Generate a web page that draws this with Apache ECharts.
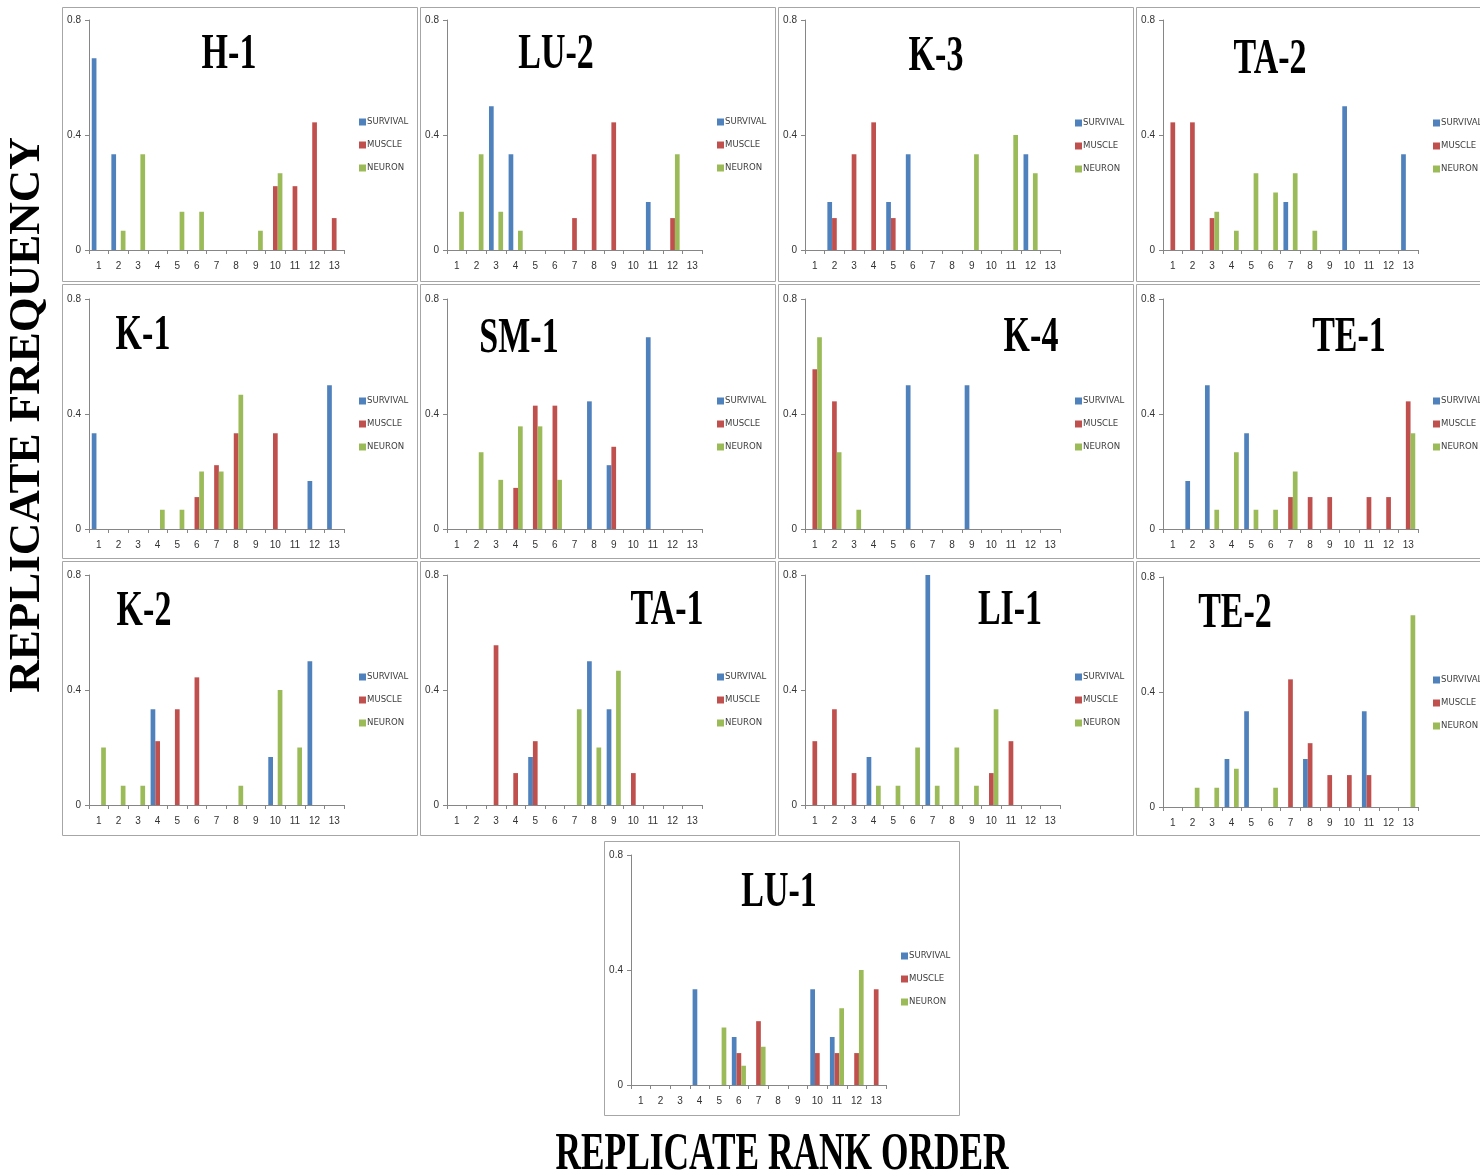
<!DOCTYPE html>
<html>
<head>
<meta charset="utf-8">
<script src="https://cdn.jsdelivr.net/npm/echarts@6/dist/echarts.min.js"></script>
<style>
html,body{margin:0;padding:0;background:#fff;}
#chart{width:1480px;height:1172px;}
</style>
</head>
<body>
<div id="chart"></div>
<script>
// ---------- DATA ----------
const categories = ['1','2','3','4','5','6','7','8','9','10','11','12','13'];
const seriesNames = ['SURVIVAL','MUSCLE','NEURON'];
const yTicks = [0, 0.4, 0.8];
const panelNames = ['H-1','LU-2','K-3','TA-2','K-1','SM-1','K-4','TE-1','K-2','TA-1','LI-1','TE-2','LU-1'];

const h1Survival = [0.667,0.333,0,0,0,0,0,0,0,0,0,0,0];
const h1Muscle   = [0,0,0,0,0,0,0,0,0,0.222,0.222,0.444,0.111];
const h1Neuron   = [0,0.067,0.333,0,0.133,0.133,0,0,0.067,0.267,0,0,0];

const lu2Survival = [0,0,0.5,0.333,0,0,0,0,0,0,0.167,0,0];
const lu2Muscle   = [0,0,0,0,0,0,0.111,0.333,0.444,0,0,0.111,0];
const lu2Neuron   = [0.133,0.333,0.133,0.067,0,0,0,0,0,0,0,0.333,0];

const k3Survival = [0,0.167,0,0,0.167,0.333,0,0,0,0,0,0.333,0];
const k3Muscle   = [0,0.111,0.333,0.444,0.111,0,0,0,0,0,0,0,0];
const k3Neuron   = [0,0,0,0,0,0,0,0,0.333,0,0.4,0.267,0];

const ta2Survival = [0,0,0,0,0,0,0.167,0,0,0.5,0,0,0.333];
const ta2Muscle   = [0.444,0.444,0.111,0,0,0,0,0,0,0,0,0,0];
const ta2Neuron   = [0,0,0.133,0.067,0.267,0.2,0.267,0.067,0,0,0,0,0];

const k1Survival = [0.333,0,0,0,0,0,0,0,0,0,0,0.167,0.5];
const k1Muscle   = [0,0,0,0,0,0.111,0.222,0.333,0,0.333,0,0,0];
const k1Neuron   = [0,0,0,0.067,0.067,0.2,0.2,0.467,0,0,0,0,0];

const sm1Survival = [0,0,0,0,0,0,0,0.444,0.222,0,0.667,0,0];
const sm1Muscle   = [0,0,0,0.143,0.429,0.429,0,0,0.286,0,0,0,0];
const sm1Neuron   = [0,0.267,0.171,0.357,0.357,0.171,0,0,0,0,0,0,0];

const k4Survival = [0,0,0,0,0,0.5,0,0,0.5,0,0,0,0];
const k4Muscle   = [0.556,0.444,0,0,0,0,0,0,0,0,0,0,0];
const k4Neuron   = [0.667,0.267,0.067,0,0,0,0,0,0,0,0,0,0];

const te1Survival = [0,0.167,0.5,0,0.333,0,0,0,0,0,0,0,0];
const te1Muscle   = [0,0,0,0,0,0,0.111,0.111,0.111,0,0.111,0.111,0.444];
const te1Neuron   = [0,0,0.067,0.267,0.067,0.067,0.2,0,0,0,0,0,0.333];

const k2Survival = [0,0,0,0.333,0,0,0,0,0,0.167,0,0.5,0];
const k2Muscle   = [0,0,0,0.222,0.333,0.444,0,0,0,0,0,0,0];
const k2Neuron   = [0.2,0.067,0.067,0,0,0,0,0.067,0,0.4,0.2,0,0];

const ta1Survival = [0,0,0,0,0.167,0,0,0.5,0.333,0,0,0,0];
const ta1Muscle   = [0,0,0.556,0.111,0.222,0,0,0,0,0.111,0,0,0];
const ta1Neuron   = [0,0,0,0,0,0,0.333,0.2,0.467,0,0,0,0];

const li1Survival = [0,0,0,0.167,0,0,0.8,0,0,0,0,0,0];
const li1Muscle   = [0.222,0.333,0.111,0,0,0,0,0,0,0.111,0.222,0,0];
const li1Neuron   = [0,0,0,0.067,0.067,0.2,0.067,0.2,0.067,0.333,0,0,0];

const te2Survival = [0,0,0,0.167,0.333,0,0,0.167,0,0,0.333,0,0];
const te2Muscle   = [0,0,0,0,0,0,0.444,0.222,0.111,0.111,0.111,0,0];
const te2Neuron   = [0,0.067,0.067,0.133,0,0.067,0,0,0,0,0,0,0.667];

const lu1Survival = [0,0,0,0.333,0,0.167,0,0,0,0.333,0.167,0,0];
const lu1Muscle   = [0,0,0,0,0,0.111,0.222,0,0,0.111,0.111,0.111,0.333];
const lu1Neuron   = [0,0,0,0,0.2,0.067,0.133,0,0,0,0.267,0.4,0];

const panelSeries = [
  [h1Survival, h1Muscle, h1Neuron],
  [lu2Survival, lu2Muscle, lu2Neuron],
  [k3Survival, k3Muscle, k3Neuron],
  [ta2Survival, ta2Muscle, ta2Neuron],
  [k1Survival, k1Muscle, k1Neuron],
  [sm1Survival, sm1Muscle, sm1Neuron],
  [k4Survival, k4Muscle, k4Neuron],
  [te1Survival, te1Muscle, te1Neuron],
  [k2Survival, k2Muscle, k2Neuron],
  [ta1Survival, ta1Muscle, ta1Neuron],
  [li1Survival, li1Muscle, li1Neuron],
  [te2Survival, te2Muscle, te2Neuron],
  [lu1Survival, lu1Muscle, lu1Neuron]
];

// ---------- LAYOUT / STYLE ----------
const panelOrigin = [[62,7],[420,7],[778,7],[1136,7],[62,284],[420,284],[778,284],[1136,284],[62,561],[420,561],[778,561],[1136,561],[604,841]];
const panelTitlePos = [[167,48],[136,48],[158,50],[134,53],[81,52],[99,55],[253,54],[213,54],[82,51],[247,50],[232,50],[99,53],[175,52]];
const panelGridTop = [13,13,13,13,15,15,15,15,14,14,14,16,14];
const panelLegendTop = [110,110,111,111,112,112,112,112,111,111,111,114,110];
const PANEL_W = 355, PANEL_H = 274;
const colors = ['#4F81BD','#C0504D','#9BBB59'];
const serif = '"Liberation Serif","Times New Roman",serif';
const axisColor = '#868686';
const labelColor = '#333';

const grids = [], xAxes = [], yAxes = [], series = [], legends = [], graphics = [];

panelOrigin.forEach(function(o, i){
  const px = o[0], py = o[1];
  graphics.push({
    type:'rect', z:-10,
    shape:{x:px+0.5, y:py+0.5, width:PANEL_W, height:PANEL_H},
    style:{fill:'#fff', stroke:'#a6a6a6', lineWidth:1}
  });
  graphics.push({
    type:'text', z:10,
    x: px + panelTitlePos[i][0], y: py + panelTitlePos[i][1],
    scaleX: 0.68,
    style:{text: panelNames[i], fontFamily: serif, fontWeight:'bold', fontSize:50,
           fill:'#000', textAlign:'center', textVerticalAlign:'middle'}
  });
  grids.push({left: px + 27, top: py + panelGridTop[i], width: 255, height: 230, containLabel:false});
  xAxes.push({
    type:'category', gridIndex:i, data:categories, boundaryGap:true,
    axisLine:{show:true, lineStyle:{color:axisColor, width:1}},
    axisTick:{show:true, alignWithLabel:false, length:4, lineStyle:{color:axisColor}},
    axisLabel:{show:true, interval:0, color:labelColor, fontSize:10, margin:11, fontFamily:'"Liberation Sans",Arial,sans-serif'},
    splitLine:{show:false}
  });
  yAxes.push({
    type:'value', gridIndex:i, min:yTicks[0], max:yTicks[2], interval:yTicks[1],
    axisLine:{show:true, lineStyle:{color:axisColor, width:1}},
    axisTick:{show:true, length:4, lineStyle:{color:axisColor}},
    axisLabel:{show:true, color:labelColor, fontSize:10, margin:8, fontFamily:'"Liberation Sans",Arial,sans-serif',
               formatter:function(v){ return v === 0 ? '0' : String(+v.toFixed(1)); }},
    splitLine:{show:false}
  });
  seriesNames.forEach(function(name, k){
    series.push({
      type:'bar', name:name, xAxisIndex:i, yAxisIndex:i,
      data: panelSeries[i][k],
      barWidth:'24%', barGap:'0%',
      itemStyle:{color:colors[k]},
      emphasis:{disabled:true},
      animation:false
    });
  });
  legends.push({
    orient:'vertical', left: px + 297, top: py + panelLegendTop[i], padding:0,
    data: seriesNames, icon:'rect', itemWidth:7, itemHeight:7, itemGap:13,
    selectedMode:false,
    textStyle:{fontSize:9.5, color:'#404040', fontFamily:'"Liberation Sans Narrow","DejaVu Sans Condensed","Liberation Sans",sans-serif', padding:[0,0,0,-4]}
  });
});

graphics.push({
  type:'text', x:27, y:415, rotation:Math.PI/2,
  style:{text:'REPLICATE FREQUENCY', fontFamily:serif, fontWeight:'bold', fontSize:45,
         fill:'#000', textAlign:'center', textVerticalAlign:'middle'}
});
graphics.push({
  type:'text', x:782, y:1156, scaleX:0.68,
  style:{text:'REPLICATE RANK ORDER', fontFamily:serif, fontWeight:'bold', fontSize:52,
         fill:'#000', textAlign:'center', textVerticalAlign:'middle'}
});

const chart = echarts.init(document.getElementById('chart'), null, {renderer:'canvas'});
chart.setOption({
  backgroundColor:'#fff',
  animation:false,
  grid: grids,
  xAxis: xAxes,
  yAxis: yAxes,
  legend: legends,
  series: series,
  graphic: {elements: graphics}
});
</script>
</body>
</html>
